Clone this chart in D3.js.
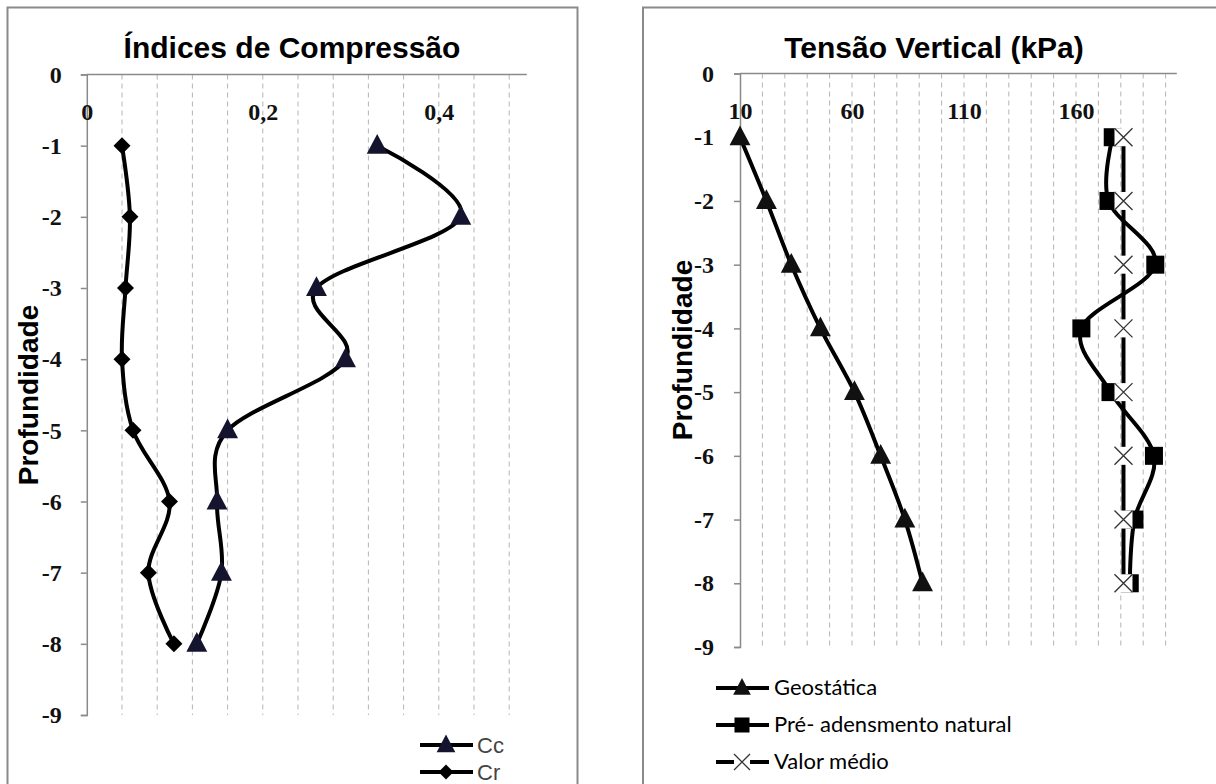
<!DOCTYPE html>
<html><head><meta charset="utf-8">
<script src="https://cdn.jsdelivr.net/npm/d3@7"></script>
<style>body{margin:0;background:#fff} svg{display:block}</style>
</head><body>
<svg id="c" width="1216" height="784"></svg>
<script>
// ---------- data ----------
const depths = [-1, -2, -3, -4, -5, -6, -7, -8];
const cc = [0.330, 0.425, 0.261, 0.294, 0.160, 0.148, 0.153, 0.125];
const cr = [0.040, 0.049, 0.044, 0.040, 0.0525, 0.094, 0.070, 0.099];
const geostatica = [10, 21.8, 32.9, 45.9, 61.1, 72.8, 83.6, 91.5];
const preAdensamento = [176.4, 174.5, 195.4, 162.4, 175.4, 194.8, 186.1, 184.0];
const valorMedio = [181.2, 181.2, 181.2, 181.2, 181.2, 181.2, 181.2, 181.2];
const depthTicks = [0, -1, -2, -3, -4, -5, -6, -7, -8, -9];
const leftXTicks = [0, 0.2, 0.4];
const leftGrid = [0.04, 0.08, 0.12, 0.16, 0.2, 0.24, 0.28, 0.32, 0.36, 0.4, 0.44, 0.48];
const rightXTicks = [10, 60, 110, 160];
const rightGrid = [20, 30, 40, 50, 60, 70, 80, 90, 100, 110, 120, 130, 140, 150, 160, 170, 180, 190, 200];
const leftTitle = "Índices de Compressão";
const rightTitle = "Tensão Vertical (kPa)";
const yTitle = "Profundidade";
const leftLegend = ["Cc", "Cr"];
const rightLegend = ["Geostática", "Pré- adensmento natural", "Valor médio"];

// ---------- drawing ----------
const svg = d3.select("#c");
svg.append("rect").attr("width", 1216).attr("height", 784).attr("fill", "#fff");

const sansB = "'Liberation Sans', Arial, sans-serif";
const serif = "'Liberation Serif', 'Times New Roman', serif";

// panel frames
svg.append("rect").attr("x", 7.5).attr("y", 7.5).attr("width", 570).attr("height", 820)
  .attr("fill", "none").attr("stroke", "#8a8a8a").attr("stroke-width", 2);
svg.append("rect").attr("x", 643).attr("y", 7.5).attr("width", 620).attr("height", 820)
  .attr("fill", "none").attr("stroke", "#8a8a8a").attr("stroke-width", 2);

const smooth = d3.curveCardinal.tension(0);

function triangle(g, s, fill) {
  g.append("path").attr("d", `M0,${-s*0.62}L${s*0.55},${s*0.42}L${-s*0.55},${s*0.42}Z`).attr("fill", fill);
}
function diamond(g, s) {
  g.append("path").attr("d", `M0,${-s/2}L${s/2},0L0,${s/2}L${-s/2},0Z`).attr("fill", "#000");
}
function square(g, s) {
  g.append("rect").attr("x", -s/2).attr("y", -s/2).attr("width", s).attr("height", s).attr("fill", "#000");
}
function cross(g, s, box) {
  if (box) g.append("rect").attr("x", -s/2).attr("y", -s/2).attr("width", s).attr("height", s).attr("fill", "#fff");
  g.append("path").attr("d", `M${-s/2},${-s/2}L${s/2},${s/2}M${s/2},${-s/2}L${-s/2},${s/2}`)
    .attr("stroke", "#333").attr("stroke-width", 1.3).attr("fill", "none");
}

function frame(x, y, grid, xTicks, fmt, titleText, titleX, yTitleX, yTitleY, tickPad) {
  const g = svg.append("g");
  const [y0, y1] = y.range();
  g.selectAll(".gl").data(grid).join("line")
    .attr("x1", d => x(d)).attr("x2", d => x(d)).attr("y1", y0).attr("y2", y1)
    .attr("stroke", "#b4b4b4").attr("stroke-width", 1).attr("stroke-dasharray", "5,4");
  g.append("line").attr("x1", x.range()[0]).attr("x2", x.range()[1]).attr("y1", y0).attr("y2", y0)
    .attr("stroke", "#8a8a8a").attr("stroke-width", 1.5);
  const ya = g.append("g").attr("transform", `translate(${x.range()[0]},0)`)
    .call(d3.axisLeft(y).tickValues(depthTicks).tickSize(6).tickPadding(tickPad).tickFormat(d => String(d)));
  ya.attr("font-family", serif).attr("font-size", 24);
  ya.select(".domain").attr("stroke", "#8a8a8a").attr("stroke-width", 1.5);
  ya.selectAll(".tick line").attr("stroke", "#8a8a8a").attr("stroke-width", 1.5);
  ya.selectAll(".tick text").attr("font-family", serif).attr("font-size", 24).attr("font-weight", "bold").attr("fill", "#111");
  const xa = g.append("g").attr("transform", `translate(0,${y0})`)
    .call(d3.axisBottom(x).tickValues(xTicks).tickSize(0).tickPadding(28).tickFormat(fmt));
  xa.attr("font-family", serif).attr("font-size", 24);
  xa.select(".domain").remove();
  xa.selectAll(".tick text").attr("font-family", serif).attr("font-size", 24).attr("font-weight", "bold").attr("fill", "#111");
  g.append("text").attr("x", titleX).attr("y", 58).attr("text-anchor", "middle")
    .attr("font-family", sansB).attr("font-weight", "bold").attr("font-size", 30).attr("fill", "#000").text(titleText);
  g.append("text").attr("transform", `translate(${yTitleX},${yTitleY}) rotate(-90)`).attr("text-anchor", "middle")
    .attr("font-family", sansB).attr("font-weight", "bold").attr("font-size", 28).attr("fill", "#000").text(yTitle);
  return g;
}

function series(g, x, y, vals, markerFn) {
  const pts = vals.map((v, i) => [v, depths[i]]);
  g.append("path").datum(pts)
    .attr("d", d3.line().x(d => x(d[0])).y(d => y(d[1])).curve(smooth))
    .attr("fill", "none").attr("stroke", "#000").attr("stroke-width", 4).attr("stroke-linejoin", "round");
  pts.forEach(p => {
    const m = g.append("g").attr("transform", `translate(${x(p[0])},${y(p[1])})`);
    markerFn(m);
  });
}

// ----- left chart -----
const xL = d3.scaleLinear().domain([0, 0.5]).range([86.8, 526.8]);
const yL = d3.scaleLinear().domain([0, -9]).range([74.5, 715]);
const gL = frame(xL, yL, leftGrid, leftXTicks, d => d3.format(".1f")(d).replace(".0", "").replace(".", ","),
  leftTitle, 292, 38, 395, 19);
series(gL, xL, yL, cc, m => triangle(m, 19, "#14142e"));
series(gL, xL, yL, cr, m => diamond(m, 17));

// left legend
leftLegend.forEach((name, i) => {
  const ly = [745, 772][i];
  gL.append("line").attr("x1", 420).attr("x2", 473).attr("y1", ly).attr("y2", ly).attr("stroke", "#000").attr("stroke-width", 4);
  const m = gL.append("g").attr("transform", `translate(446,${ly})`);
  if (i === 0) triangle(m, 17, "#14142e"); else diamond(m, 15);
  gL.append("text").attr("x", 477).attr("y", ly + 8).attr("font-family", "'Liberation Sans', Arial, sans-serif")
    .attr("font-size", 22).attr("fill", "#444").text(name);
});

// ----- right chart -----
const xR = d3.scaleLinear().domain([10, 205]).range([740, 1176.8]);
const yR = d3.scaleLinear().domain([0, -9]).range([73.5, 647]);
const gR = frame(xR, yR, rightGrid, rightXTicks, d => String(d), rightTitle, 934, 692, 350, 20);
series(gR, xR, yR, geostatica, m => triangle(m, 19, "#111"));
series(gR, xR, yR, preAdensamento, m => square(m, 18));
series(gR, xR, yR, valorMedio, m => cross(m, 18, true));

// right legend
rightLegend.forEach((name, i) => {
  const ly = [688, 725, 762][i];
  gR.append("line").attr("x1", 716).attr("x2", 769).attr("y1", ly).attr("y2", ly).attr("stroke", "#000").attr("stroke-width", 4);
  const m = gR.append("g").attr("transform", `translate(742,${ly})`);
  if (i === 0) triangle(m, 16, "#111"); else if (i === 1) square(m, 15); else cross(m, 16, true);
  gR.append("text").attr("x", 774).attr("y", ly + 7).attr("font-family", "Lato, 'Open Sans', sans-serif")
    .attr("font-size", 22).attr("fill", "#000").text(name);
});
</script>
</body></html>
